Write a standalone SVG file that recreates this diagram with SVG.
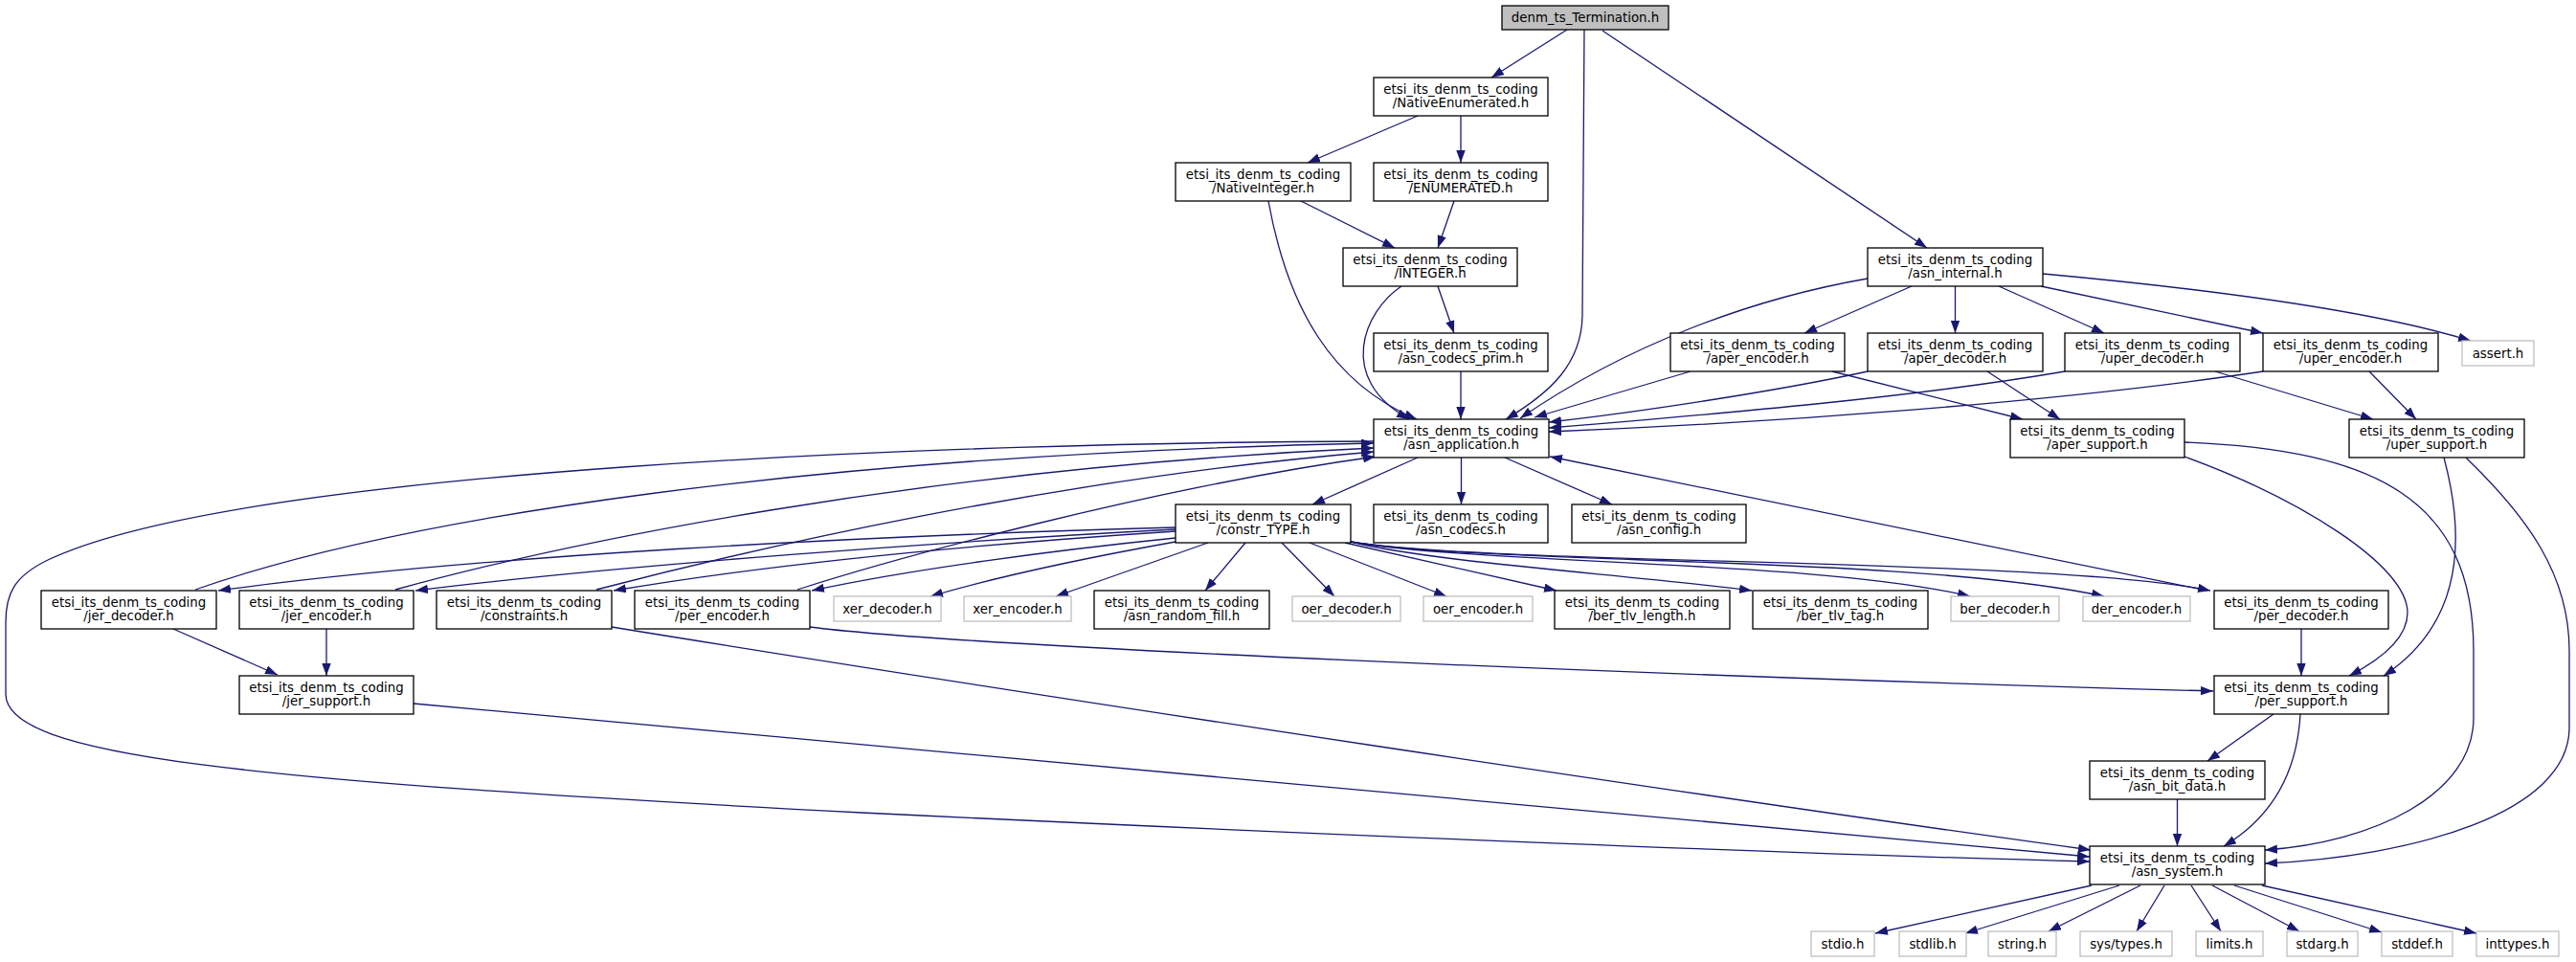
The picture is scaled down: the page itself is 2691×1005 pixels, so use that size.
<svg xmlns="http://www.w3.org/2000/svg" width="2691" height="1005" viewBox="0 0 2691 1005">
<defs>
<marker id="ah" markerUnits="userSpaceOnUse" markerWidth="14" markerHeight="10" refX="13" refY="4.7" orient="auto"><path d="M0,0 L13,4.7 L0,9.4 z" fill="#191970"/></marker>
<style>
.e path{fill:none;stroke:#191970;stroke-width:1.3;marker-end:url(#ah)}
.n rect{fill:#fff;stroke:#000;stroke-width:1.3}
.x rect{fill:#fff;stroke:#bfbfbf;stroke-width:1.3}
.r rect{fill:#bfbfbf;stroke:#000;stroke-width:1.3}
text{font-family:"DejaVu Sans","Liberation Sans",sans-serif;font-size:13.33px;text-anchor:middle;fill:#000}
</style>
</defs>
<rect width="2691" height="1005" fill="#fff"/>
<g id="edges" class="e">
<path d="M1637,31 L1558,81"/>
<path d="M1655,31 L1653,330 C1652,380 1620,410 1573,438"/>
<path d="M1674,32 L2013,259"/>
<path d="M1481,121 L1366,170"/>
<path d="M1526,121 L1526,170"/>
<path d="M1359,210 L1457,259"/>
<path d="M1325,210 C1345,320 1390,400 1480,438"/>
<path d="M1519,210 L1502,259"/>
<path d="M1502,299 L1519,348"/>
<path d="M1464,299 C1425,325 1395,395 1472,438"/>
<path d="M1526,388 L1526,438"/>
<path d="M1951,291 C1830,312 1700,360 1588,437"/>
<path d="M1997,299 L1885,348"/>
<path d="M2042.5,299 L2042.5,348"/>
<path d="M2088,299 L2198,348"/>
<path d="M2132,299 L2364,348"/>
<path d="M2134,286 C2340,305 2490,328 2581,356"/>
<path d="M1766,388 L1603,436"/>
<path d="M1914,388 L2113,438"/>
<path d="M1951,388 C1850,410 1700,432 1618,441"/>
<path d="M2076,388 L2152,438"/>
<path d="M2157,388 C2000,415 1800,432 1618,447"/>
<path d="M2314,388 L2479,438"/>
<path d="M2364,388 C2150,420 1850,442 1618,451"/>
<path d="M2475,388 L2524,438"/>
<path d="M2282,477 C2400,520 2515,590 2515,640 C2515,668 2485,690 2454,706"/>
<path d="M2553,478 C2575,560 2575,650 2490,706"/>
<path d="M2282,462 C2480,470 2584,520 2584,680 L2584,750 C2584,830 2480,880 2366,888"/>
<path d="M2576,478 C2640,540 2684,600 2684,680 L2684,760 C2684,850 2520,895 2366,902"/>
<path d="M2306,617 L1619,477"/>
<path d="M2404,657 L2404,706"/>
<path d="M2375,746 L2306,795"/>
<path d="M2403,746 C2400,800 2380,850 2323,884"/>
<path d="M2274.5,835 L2274.5,884"/>
<path d="M2185,925 L1959,975"/>
<path d="M2214,925 L2053,975"/>
<path d="M2236,925 L2140,973"/>
<path d="M2261,925 L2232,973"/>
<path d="M2289,925 L2320,973"/>
<path d="M2311,925 L2402,973"/>
<path d="M2334,925 L2488,974"/>
<path d="M2363,925 L2587,975"/>
<path d="M1481,478 L1371,527"/>
<path d="M1526.5,478 L1526.5,527"/>
<path d="M1572,478 L1684,527"/>
<path d="M1228,551 C900,560 500,580 228,617"/>
<path d="M1228,553 C1000,565 650,590 434,617"/>
<path d="M1228,555 C1000,570 800,590 641,617"/>
<path d="M1228,562 C1100,575 950,595 848,617"/>
<path d="M1228,566 C1150,580 1050,600 972,623"/>
<path d="M1262,567 L1103,623"/>
<path d="M1301,567 L1259,617"/>
<path d="M1339,567 L1394,623"/>
<path d="M1368,567 L1511,623"/>
<path d="M1405,567 L1626,617"/>
<path d="M1411,566 C1500,588 1700,600 1830,617"/>
<path d="M1411,566 C1550,590 1900,585 2058,623"/>
<path d="M1411,566 C1550,590 2000,580 2198,623"/>
<path d="M1411,566 C1550,590 2150,583 2309,617"/>
<path d="M204,616 C420,540 850,475 1435,463"/>
<path d="M413,616 C580,570 950,490 1435,468"/>
<path d="M623,616 C780,575 1100,500 1435,472"/>
<path d="M833,616 C930,585 1200,510 1437,477"/>
<path d="M1435,461 C1000,462 250,490 50,585 C15,602 6,620 6,650 L6,725 C6,790 250,815 900,849 C1400,873 1900,893 2183,900"/>
<path d="M432,735 L2183,895"/>
<path d="M639,655 C1100,730 1800,835 2184,888"/>
<path d="M846,655 C1000,675 1700,705 2312,722"/>
<path d="M181,657 L290,705"/>
<path d="M341,657 L341,706"/>
</g>
<g id="n_root" class="r"><rect x="1569" y="6" width="174" height="25"/><text x="1656" y="23">denm_ts_Termination.h</text></g>
<g id="n_NativeEnumerated" class="n"><rect x="1435" y="81" width="182" height="40"/><text x="1526" y="98">etsi_its_denm_ts_coding</text><text x="1526" y="112">/NativeEnumerated.h</text></g>
<g id="n_NativeInteger" class="n"><rect x="1228" y="170" width="183" height="40"/><text x="1319.5" y="187">etsi_its_denm_ts_coding</text><text x="1319.5" y="201">/NativeInteger.h</text></g>
<g id="n_ENUMERATED" class="n"><rect x="1435" y="170" width="182" height="40"/><text x="1526" y="187">etsi_its_denm_ts_coding</text><text x="1526" y="201">/ENUMERATED.h</text></g>
<g id="n_INTEGER" class="n"><rect x="1403" y="259" width="182" height="40"/><text x="1494" y="276">etsi_its_denm_ts_coding</text><text x="1494" y="290">/INTEGER.h</text></g>
<g id="n_asn_internal" class="n"><rect x="1951" y="259" width="183" height="40"/><text x="2042.5" y="276">etsi_its_denm_ts_coding</text><text x="2042.5" y="290">/asn_internal.h</text></g>
<g id="n_asn_codecs_prim" class="n"><rect x="1435" y="348" width="182" height="40"/><text x="1526" y="365">etsi_its_denm_ts_coding</text><text x="1526" y="379">/asn_codecs_prim.h</text></g>
<g id="n_aper_encoder" class="n"><rect x="1745" y="348" width="182" height="40"/><text x="1836" y="365">etsi_its_denm_ts_coding</text><text x="1836" y="379">/aper_encoder.h</text></g>
<g id="n_aper_decoder" class="n"><rect x="1951" y="348" width="183" height="40"/><text x="2042.5" y="365">etsi_its_denm_ts_coding</text><text x="2042.5" y="379">/aper_decoder.h</text></g>
<g id="n_uper_decoder" class="n"><rect x="2157" y="348" width="183" height="40"/><text x="2248.5" y="365">etsi_its_denm_ts_coding</text><text x="2248.5" y="379">/uper_decoder.h</text></g>
<g id="n_uper_encoder" class="n"><rect x="2364" y="348" width="183" height="40"/><text x="2455.5" y="365">etsi_its_denm_ts_coding</text><text x="2455.5" y="379">/uper_encoder.h</text></g>
<g id="n_assert" class="x"><rect x="2572" y="356" width="75" height="26"/><text x="2609.5" y="373.5">assert.h</text></g>
<g id="n_asn_application" class="n"><rect x="1435" y="438" width="183" height="40"/><text x="1526.5" y="455">etsi_its_denm_ts_coding</text><text x="1526.5" y="469">/asn_application.h</text></g>
<g id="n_aper_support" class="n"><rect x="2100" y="438" width="182" height="40"/><text x="2191" y="455">etsi_its_denm_ts_coding</text><text x="2191" y="469">/aper_support.h</text></g>
<g id="n_uper_support" class="n"><rect x="2454" y="438" width="183" height="40"/><text x="2545.5" y="455">etsi_its_denm_ts_coding</text><text x="2545.5" y="469">/uper_support.h</text></g>
<g id="n_constr_TYPE" class="n"><rect x="1228" y="527" width="183" height="40"/><text x="1319.5" y="544">etsi_its_denm_ts_coding</text><text x="1319.5" y="558">/constr_TYPE.h</text></g>
<g id="n_asn_codecs" class="n"><rect x="1435" y="527" width="182" height="40"/><text x="1526" y="544">etsi_its_denm_ts_coding</text><text x="1526" y="558">/asn_codecs.h</text></g>
<g id="n_asn_config" class="n"><rect x="1642" y="527" width="182" height="40"/><text x="1733" y="544">etsi_its_denm_ts_coding</text><text x="1733" y="558">/asn_config.h</text></g>
<g id="n_jer_decoder" class="n"><rect x="43" y="617" width="183" height="40"/><text x="134.5" y="634">etsi_its_denm_ts_coding</text><text x="134.5" y="648">/jer_decoder.h</text></g>
<g id="n_jer_encoder" class="n"><rect x="250" y="617" width="182" height="40"/><text x="341" y="634">etsi_its_denm_ts_coding</text><text x="341" y="648">/jer_encoder.h</text></g>
<g id="n_constraints" class="n"><rect x="456" y="617" width="183" height="40"/><text x="547.5" y="634">etsi_its_denm_ts_coding</text><text x="547.5" y="648">/constraints.h</text></g>
<g id="n_per_encoder" class="n"><rect x="663" y="617" width="183" height="40"/><text x="754.5" y="634">etsi_its_denm_ts_coding</text><text x="754.5" y="648">/per_encoder.h</text></g>
<g id="n_xer_decoder" class="x"><rect x="871" y="623" width="112" height="26"/><text x="927" y="640.5">xer_decoder.h</text></g>
<g id="n_xer_encoder" class="x"><rect x="1007" y="623" width="112" height="26"/><text x="1063" y="640.5">xer_encoder.h</text></g>
<g id="n_asn_random_fill" class="n"><rect x="1143" y="617" width="183" height="40"/><text x="1234.5" y="634">etsi_its_denm_ts_coding</text><text x="1234.5" y="648">/asn_random_fill.h</text></g>
<g id="n_oer_decoder" class="x"><rect x="1350" y="623" width="113" height="26"/><text x="1406.5" y="640.5">oer_decoder.h</text></g>
<g id="n_oer_encoder" class="x"><rect x="1487" y="623" width="114" height="26"/><text x="1544" y="640.5">oer_encoder.h</text></g>
<g id="n_ber_tlv_length" class="n"><rect x="1624" y="617" width="183" height="40"/><text x="1715.5" y="634">etsi_its_denm_ts_coding</text><text x="1715.5" y="648">/ber_tlv_length.h</text></g>
<g id="n_ber_tlv_tag" class="n"><rect x="1831" y="617" width="183" height="40"/><text x="1922.5" y="634">etsi_its_denm_ts_coding</text><text x="1922.5" y="648">/ber_tlv_tag.h</text></g>
<g id="n_ber_decoder" class="x"><rect x="2038" y="623" width="113" height="26"/><text x="2094.5" y="640.5">ber_decoder.h</text></g>
<g id="n_der_encoder" class="x"><rect x="2176" y="623" width="112" height="26"/><text x="2232" y="640.5">der_encoder.h</text></g>
<g id="n_per_decoder" class="n"><rect x="2313" y="617" width="182" height="40"/><text x="2404" y="634">etsi_its_denm_ts_coding</text><text x="2404" y="648">/per_decoder.h</text></g>
<g id="n_jer_support" class="n"><rect x="250" y="706" width="182" height="40"/><text x="341" y="723">etsi_its_denm_ts_coding</text><text x="341" y="737">/jer_support.h</text></g>
<g id="n_per_support" class="n"><rect x="2313" y="706" width="182" height="40"/><text x="2404" y="723">etsi_its_denm_ts_coding</text><text x="2404" y="737">/per_support.h</text></g>
<g id="n_asn_bit_data" class="n"><rect x="2183" y="795" width="183" height="40"/><text x="2274.5" y="812">etsi_its_denm_ts_coding</text><text x="2274.5" y="826">/asn_bit_data.h</text></g>
<g id="n_asn_system" class="n"><rect x="2183" y="884" width="183" height="40"/><text x="2274.5" y="901">etsi_its_denm_ts_coding</text><text x="2274.5" y="915">/asn_system.h</text></g>
<g id="n_stdio" class="x"><rect x="1892" y="973" width="66" height="26"/><text x="1925" y="990.5">stdio.h</text></g>
<g id="n_stdlib" class="x"><rect x="1984" y="973" width="70" height="26"/><text x="2019" y="990.5">stdlib.h</text></g>
<g id="n_string" class="x"><rect x="2077" y="973" width="71" height="26"/><text x="2112.5" y="990.5">string.h</text></g>
<g id="n_sys_types" class="x"><rect x="2173" y="973" width="96" height="26"/><text x="2221" y="990.5">sys/types.h</text></g>
<g id="n_limits" class="x"><rect x="2294" y="973" width="70" height="26"/><text x="2329" y="990.5">limits.h</text></g>
<g id="n_stdarg" class="x"><rect x="2389" y="973" width="74" height="26"/><text x="2426" y="990.5">stdarg.h</text></g>
<g id="n_stddef" class="x"><rect x="2488" y="973" width="74" height="26"/><text x="2525" y="990.5">stddef.h</text></g>
<g id="n_inttypes" class="x"><rect x="2587" y="973" width="86" height="26"/><text x="2630" y="990.5">inttypes.h</text></g>
</svg>
